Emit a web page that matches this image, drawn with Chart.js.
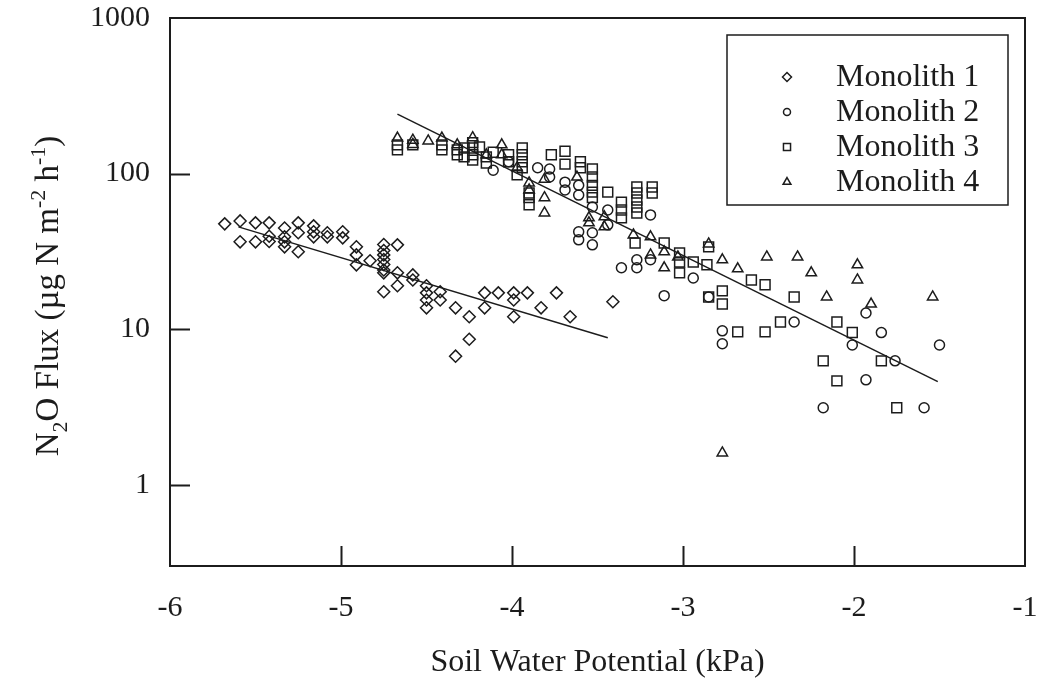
<!DOCTYPE html>
<html lang="en">
<head>
  <meta charset="UTF-8" />
  <title>N2O Flux vs Soil Water Potential</title>
  <script src="https://cdn.jsdelivr.net/npm/chart.js"></script>
  <style>
    html, body {
      margin: 0;
      padding: 0;
      background: #fff;
    }
    .wrap {
      width: 1042px;
      height: 682px;
    }
  </style>
</head>
<body>
  <div class="wrap">
    <canvas id="fluxChart" width="1042" height="682"></canvas>
  </div>

  <script>
    // Soil water potential (kPa) and N2O flux (ug N m-2 h-1) per monolith
    const m1Potential = [-5.68, -5.59, -5.50, -5.42, -5.59, -5.50, -5.42, -5.42, -5.33, -5.33, -5.33, -5.33,
      -5.25, -5.25, -5.25, -5.16, -5.16, -5.16, -5.08, -5.08, -4.99, -4.99, -4.91, -4.91, -4.91, -4.83,
      -4.75, -4.75, -4.75, -4.75, -4.75, -4.75, -4.75, -4.75, -4.67, -4.67, -4.67, -4.58, -4.58,
      -4.50, -4.50, -4.50, -4.50, -4.42, -4.42, -4.33, -4.33, -4.25, -4.25, -4.16, -4.16, -4.08,
      -3.99, -3.99, -3.99, -3.91, -3.83, -3.74, -3.66, -3.41];
    const m1Flux = [47.5, 49.6, 48.2, 48.2, 36.4, 36.4, 39.5, 36.6, 44.7, 39.2, 36.4, 33.8,
      48.2, 41.6, 31.4, 46.1, 42.2, 39.2, 41.6, 39.2, 42.2, 38.6, 33.8, 30.0, 25.9, 27.5,
      35.0, 32.0, 30.0, 28.0, 26.0, 24.0, 23.0, 17.4, 34.8, 23.0, 19.0, 22.3, 20.7,
      19.0, 17.1, 15.4, 13.7, 17.4, 15.4, 13.7, 6.7, 12.0, 8.6, 17.1, 13.7, 17.1,
      17.1, 15.4, 12.0, 17.1, 13.7, 17.1, 12.0, 15.0];

    const m2Potential = [-4.11, -4.02, -3.85, -3.78, -3.78, -3.69, -3.69, -3.61, -3.61, -3.53, -3.44,
      -3.61, -3.61, -3.53, -3.53, -3.44, -3.36, -3.27, -3.27, -3.19, -3.19, -3.11, -2.94, -2.85,
      -2.77, -2.77, -2.35, -2.01, -1.84, -1.93, -1.50, -1.76, -1.93, -2.18, -1.59];
    const m2Flux = [105, 119, 109, 107, 95, 88, 78.5, 84, 72.7, 61, 58.3,
      42.2, 37.5, 41.6, 34.8, 46.8, 24.8, 27.9, 24.8, 54.2, 27.9, 16.4, 21.3, 16.1,
      9.75, 8.05, 11.1, 7.9, 9.5, 12.7, 7.9, 6.25, 4.72, 3.12, 3.12];

    const m3Potential = [-4.67, -4.67, -4.58, -4.41, -4.41, -4.32, -4.32, -4.28, -4.28, -4.23, -4.23,
      -4.23, -4.23, -4.19, -4.15, -4.15, -4.11, -4.02, -4.02, -3.97, -3.94, -3.94, -3.94, -3.94,
      -3.90, -3.90, -3.90, -3.77, -3.69, -3.69, -3.60, -3.60, -3.53, -3.53, -3.53, -3.53, -3.53,
      -3.44, -3.36, -3.36, -3.36, -3.27, -3.27, -3.27, -3.27, -3.27, -3.18, -3.18, -3.28, -3.11,
      -3.02, -3.02, -3.02, -2.94, -2.86, -2.85, -2.60, -2.52, -2.77, -2.77, -2.85, -2.35,
      -2.68, -2.52, -2.43, -2.10, -2.01, -2.18, -1.84, -2.10, -1.75];
    const m3Flux = [153, 142, 153, 153, 142, 142, 132, 146, 128, 158, 146,
      132, 122, 148, 128, 117, 137, 132, 119, 98, 146, 132, 119, 109,
      75, 70, 63, 132, 139, 115, 119, 109, 107, 95, 84, 76, 70,
      76, 65.5, 58.3, 51.9, 82, 75, 67.6, 61, 55.8, 82, 75, 35.8, 35.8,
      30.9, 27.0, 23.0, 27.0, 25.9, 33.8, 20.7, 19.3, 17.6, 14.5, 16.1, 16.1,
      9.6, 9.6, 11.1, 11.1, 9.5, 6.25, 6.25, 4.65, 3.12];

    const m4Potential = [-4.67, -4.58, -4.58, -4.49, -4.41, -4.32, -4.23, -4.15, -4.06, -4.06, -3.97,
      -3.90, -3.90, -3.81, -3.81, -3.81, -3.62, -3.55, -3.55, -3.46, -3.46, -3.29, -3.19, -3.19,
      -3.11, -3.11, -3.03, -2.85, -2.77, -2.68, -2.51, -2.33, -2.25, -1.98, -1.98, -2.16, -1.90,
      -1.54, -2.77];
    const m4Flux = [169, 164, 154, 162, 169, 153, 170, 132, 153, 132, 109,
      87, 78.5, 92, 70, 55.8, 95, 51.9, 48.2, 52.7, 45.5, 40.3, 39.2, 30.0,
      31.4, 24.8, 29.1, 35.3, 27.9, 24.4, 29.1, 29.1, 23.0, 25.9, 20.7, 16.1, 14.5,
      16.1, 1.6];

    // Fitted regression lines (end points)
    const fit1Potential = [-5.60, -3.44];
    const fit1Flux = [45.4, 8.8];
    const fit2Potential = [-4.67, -1.51];
    const fit2Flux = [241, 4.6];

    const monolithNames = ['Monolith 1', 'Monolith 2', 'Monolith 3', 'Monolith 4'];
    const xTicks = [-6, -5, -4, -3, -2, -1];
    const yTicks = [1, 10, 100, 1000];

    const ink = '#1c1c1c';
    const serif = '"Liberation Serif", "Times New Roman", serif';

    const toPoints = (xs, ys) => xs.map((x, i) => ({ x: x, y: ys[i] }));

    function markerSet(label, xs, ys, style, radius) {
      return {
        type: 'scatter',
        label: label,
        data: toPoints(xs, ys),
        pointStyle: style,
        pointRadius: radius,
        pointHoverRadius: radius,
        pointBorderWidth: 1.5,
        pointBorderColor: ink,
        pointBackgroundColor: 'rgba(0,0,0,0)',
        showLine: false
      };
    }

    function fitLine(xs, ys) {
      return {
        type: 'line',
        label: 'fit',
        data: toPoints(xs, ys),
        borderColor: ink,
        borderWidth: 1.5,
        pointRadius: 0,
        fill: false
      };
    }

    const markerStyles = [
      { style: 'rectRot', radius: 6, legendRadius: 4.5 },
      { style: 'circle', radius: 5, legendRadius: 3.5 },
      { style: 'rect', radius: 7, legendRadius: 5 },
      { style: 'triangle', radius: 6, legendRadius: 4.5 }
    ];

    // keep tick labels from pushing the plot area inwards
    function noLabelPadding(s) {
      s.paddingLeft = 0;
      s.paddingRight = 0;
      s.paddingTop = 0;
      s.paddingBottom = 0;
    }

    // frame, inward ticks, the y title with sub/superscripts and the boxed legend
    const decorations = {
      id: 'decorations',
      afterDraw(chart) {
        const { ctx, chartArea: a, scales } = chart;
        const tickLen = 20;
        ctx.save();
        ctx.strokeStyle = ink;
        ctx.fillStyle = ink;

        ctx.lineWidth = 2;
        ctx.strokeRect(a.left, a.top, a.right - a.left, a.bottom - a.top);

        ctx.beginPath();
        yTicks.forEach(v => {
          const py = Math.round(scales.y.getPixelForValue(v)) + 0.5;
          if (py > a.top + 2 && py < a.bottom - 2) {
            ctx.moveTo(a.left, py);
            ctx.lineTo(a.left + tickLen, py);
          }
        });
        xTicks.forEach(v => {
          const px = Math.round(scales.x.getPixelForValue(v)) + 0.5;
          if (px > a.left + 2 && px < a.right - 2) {
            ctx.moveTo(px, a.bottom);
            ctx.lineTo(px, a.bottom - tickLen);
          }
        });
        ctx.stroke();

        // y axis title
        const size = 33;
        const small = 22;
        const parts = [
          { t: 'N', f: size, dy: 0 },
          { t: '2', f: small, dy: 9 },
          { t: 'O Flux (\u00b5g N m', f: size, dy: 0 },
          { t: '-2', f: small, dy: -13 },
          { t: ' h', f: size, dy: 0 },
          { t: '-1', f: small, dy: -13 },
          { t: ')', f: size, dy: 0 }
        ];
        let total = 0;
        parts.forEach(p => {
          ctx.font = p.f + 'px ' + serif;
          p.w = ctx.measureText(p.t).width;
          total += p.w;
        });
        ctx.translate(58, (a.top + a.bottom) / 2 + 4);
        ctx.rotate(-Math.PI / 2);
        ctx.textBaseline = 'alphabetic';
        ctx.textAlign = 'left';
        let cx = -total / 2;
        parts.forEach(p => {
          ctx.font = p.f + 'px ' + serif;
          ctx.fillText(p.t, cx, p.dy);
          cx += p.w;
        });
        ctx.setTransform(1, 0, 0, 1, 0, 0);

        // legend
        const bx = a.right - 298;
        const by = a.top + 17;
        ctx.lineWidth = 1.5;
        ctx.fillStyle = '#fff';
        ctx.fillRect(bx, by, 281, 170);
        ctx.strokeRect(bx, by, 281, 170);
        ctx.font = '32px ' + serif;
        ctx.textBaseline = 'middle';
        monolithNames.forEach((name, i) => {
          const ry = by + 42 + i * 35;
          const m = markerStyles[i];
          ctx.fillStyle = '#fff';
          ctx.lineWidth = 1.5;
          Chart.helpers.drawPoint(ctx, {
            pointStyle: m.style,
            radius: m.legendRadius,
            rotation: 0,
            borderWidth: 1.5
          }, bx + 60, ry);
          ctx.fillStyle = ink;
          ctx.fillText(name, bx + 109, ry + 1);
        });
        ctx.restore();
      }
    };

    const ctx = document.getElementById('fluxChart').getContext('2d');
    new Chart(ctx, {
      data: {
        datasets: [
          markerSet(monolithNames[0], m1Potential, m1Flux, markerStyles[0].style, markerStyles[0].radius),
          markerSet(monolithNames[1], m2Potential, m2Flux, markerStyles[1].style, markerStyles[1].radius),
          markerSet(monolithNames[2], m3Potential, m3Flux, markerStyles[2].style, markerStyles[2].radius),
          markerSet(monolithNames[3], m4Potential, m4Flux, markerStyles[3].style, markerStyles[3].radius),
          fitLine(fit1Potential, fit1Flux),
          fitLine(fit2Potential, fit2Flux)
        ]
      },
      options: {
        responsive: false,
        animation: false,
        devicePixelRatio: 1,
        layout: { padding: { left: 0, right: 17, top: 18, bottom: 0 } },
        plugins: {
          legend: { display: false },
          tooltip: { enabled: false }
        },
        scales: {
          x: {
            type: 'linear',
            min: -6,
            max: -1,
            afterBuildTicks: s => { s.ticks = xTicks.map(v => ({ value: v })); },
            afterFit: s => { s.height = 116; noLabelPadding(s); },
            grid: { display: false, drawTicks: false },
            border: { display: false },
            ticks: {
              padding: 24,
              color: ink,
              font: { family: serif, size: 30 },
              callback: v => String(v)
            },
            title: {
              display: true,
              text: 'Soil Water Potential (kPa)',
              color: ink,
              font: { family: serif, size: 32 },
              padding: { top: 0, bottom: 0 }
            }
          },
          y: {
            type: 'logarithmic',
            min: 0.3,
            max: 1000,
            afterBuildTicks: s => { s.ticks = yTicks.map(v => ({ value: v })); },
            afterFit: s => { s.width = 170; noLabelPadding(s); },
            grid: { display: false, drawTicks: false },
            border: { display: false },
            ticks: {
              padding: 20,
              color: ink,
              font: { family: serif, size: 30 },
              callback: v => String(v)
            }
          }
        }
      },
      plugins: [decorations]
    });
  </script>
</body>
</html>
